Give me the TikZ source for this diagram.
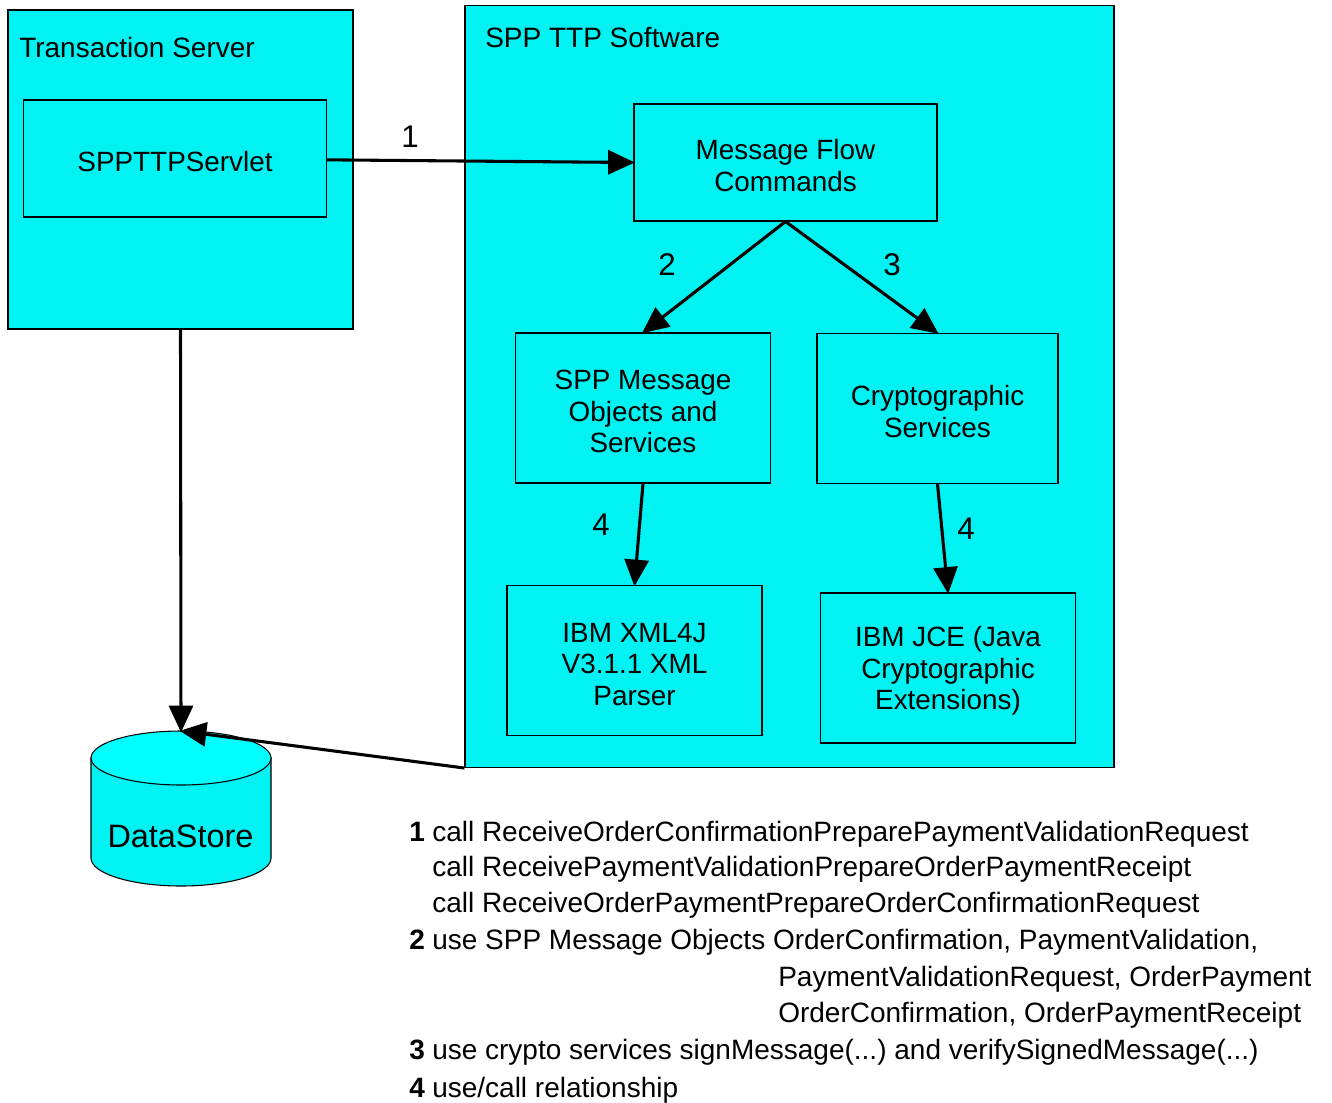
\documentclass[tikz,border=0pt]{standalone}
\usepackage{fontspec}
\setmainfont{Liberation Sans}
\frenchspacing
\usetikzlibrary{arrows.meta}
\definecolor{boxcyan}{HTML}{00F2F2}
\definecolor{topcyan}{HTML}{00FFFF}
\newcommand\boxstrut{\rule{0pt}{20pt}}
\tikzset{
  sized/.style 2 args={minimum width=#1*0.75pt,minimum height=#2*0.75pt},
  outer/.style={draw,line width=0.8pt,fill=boxcyan,inner sep=0pt},
  box/.style={outer,align=center,font=\fontsize{20.9}{23.6}\selectfont},
  arr/.style={line width=2.3pt,-{Triangle[length=20pt,width=18pt]},shorten >=-1pt},
  num/.style={font=\fontsize{23.5}{26}\selectfont},
  title/.style={anchor=base west,inner sep=0pt,font=\fontsize{21}{24}\selectfont},
  legend/.style={anchor=base west,inner sep=0pt,font=\fontsize{21}{24}\selectfont}
}
\begin{document}
\begin{tikzpicture}[x=0.75pt,y=-0.75pt]
    \useasboundingbox (0,0) rectangle (1332,1103);
    % outer boxes
    \node[outer,sized={345}{319}] (server) at (180.5,169.5) {};
    \node[outer,sized={649}{762}] (ttp) at (789.5,386.5) {};
    \node[title] (servertitle) at (19,57) {Transaction Server};
    \node[title] (ttptitle) at (485,47) {SPP TTP Software};
    % inner boxes
    \node[box,sized={303}{117}] (servlet) at (175,158.5) {\boxstrut SPPTTPServlet};
    \node[box,sized={303}{117}] (flow) at (785.5,162.5) {\boxstrut Message Flow\\Commands};
    \node[box,sized={255}{150}] (spp) at (643,408) {\boxstrut SPP Message\\Objects and\\Services};
    \node[box,sized={241}{150}] (crypto) at (937.5,408.5) {\boxstrut Cryptographic\\Services};
    \node[box,sized={255}{150}] (xml) at (634.5,660.5) {\boxstrut IBM XML4J\\V3.1.1 XML\\Parser};
    \node[box,sized={255}{150}] (jce) at (948,668) {\boxstrut IBM JCE (Java\\Cryptographic\\Extensions)};
    % data store
    \draw[line width=0.8pt,fill=boxcyan] (91,758) -- (91,858)
      arc[start angle=180,end angle=360,x radius=67.5pt,y radius=21pt] -- (271,758) -- cycle;
    \draw[line width=0.8pt,fill=topcyan] (181,758) ellipse[x radius=67.5pt,y radius=20.25pt];
    \coordinate (storetop) at (181,731);
    \node[font=\fontsize{24.3}{28}\selectfont,inner sep=0pt] (store) at (180.5,836) {DataStore};
    % connectors
    \draw[arr] ([yshift=-1pt]servlet.east)--(flow.west);
    \draw[arr] (flow.south)--(spp.north);
    \draw[arr] (flow.south)--(crypto.north);
    \draw[arr] (spp.south)--(xml.north);
    \draw[arr] (crypto.south)--(jce.north);
    \draw[arr] (server.south)--(storetop);
    \draw[arr] (ttp.south west)--(storetop);
    % arrow numbers
    \foreach \p/\t [count=\i from 1] in {(410,137)/1,(667,265)/2,(892,265)/3,(601,525)/4,(966,529)/4}
      {\node[num,inner sep=0pt] (n\i) at \p {\t};}
    % legend
    \foreach \y/\t [count=\i from 1] in {841/1,949.5/2,1059.5/3,1097/4}
      {\node[legend] (k\i) at (409,\y) {\textbf{\t}};}
    \foreach \y/\t [count=\i from 1] in {
        841/call ReceiveOrderConfirmationPreparePaymentValidationRequest,
        876.5/call ReceivePaymentValidationPrepareOrderPaymentReceipt,
        912.5/call ReceiveOrderPaymentPrepareOrderConfirmationRequest,
        949.5/{use SPP Message Objects OrderConfirmation, PaymentValidation,}}
      {\node[legend] (l\i) at (432,\y) {\t};}
    \node[legend] (l5) at (432,1059.5) {use crypto services signMessage(...) and verifySignedMessage(...)};
    \node[legend] (l6) at (432,1097) {use/call relationship};
    \begin{scope}
      \clip (700,960) rectangle (1310,1030);
      \node[legend] (l7) at (778,986) {PaymentValidationRequest, OrderPayment};
      \node[legend] (l8) at (778,1022.5) {OrderConfirmation, OrderPaymentReceipt};
    \end{scope}
\end{tikzpicture}
\end{document}
